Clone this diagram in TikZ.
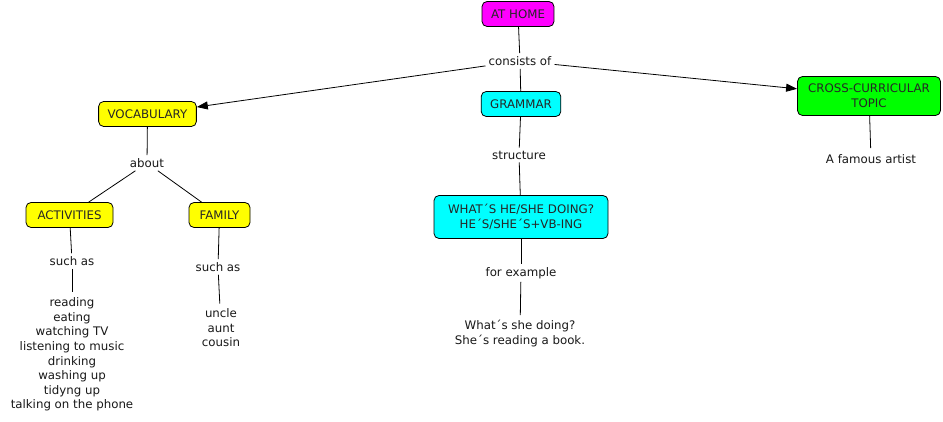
\documentclass[tikz,border=0pt]{standalone}
\usepackage{fontspec}
\setmainfont{DejaVu Sans}
\usetikzlibrary{arrows.meta}
\definecolor{cmag}{RGB}{255,0,255}
\definecolor{cyel}{RGB}{255,255,0}
\definecolor{ccyan}{RGB}{0,255,255}
\definecolor{cgreen}{RGB}{0,255,0}
\begin{document}
\begin{tikzpicture}[x=1pt,y=-1pt,
  font=\fontsize{11.8}{14.6}\selectfont,
  concept/.style={draw=black, rounded corners=5pt, align=center, inner xsep=9pt, inner ysep=0pt, minimum height=25pt, line width=0.8pt, text=black!85},
  lbl/.style={inner sep=3pt, align=center, text=black!90},
  link/.style={draw=black, line width=0.8pt},
  arr/.style={link, -{Triangle[length=11pt,width=8pt]}}]
\useasboundingbox[fill=white] (0,0) rectangle (943,422);

\node[concept, fill=cmag] (home) at (518,14) {AT HOME};
\node[lbl] (consists) at (520,61) {consists of};
\node[concept, fill=cyel, minimum width=97pt] (vocab) at (147.5,114) {VOCABULARY};
\node[concept, fill=ccyan] (grammar) at (521,104) {GRAMMAR};
\node[concept, fill=cgreen, minimum width=143pt, minimum height=39pt] (cross) at (869,96) {CROSS-CURRICULAR\\TOPIC};
\node[lbl] (about) at (147,163) {about};
\node[concept, fill=cyel, minimum width=87pt] (act) at (69.5,215) {ACTIVITIES};
\node[concept, fill=cyel, minimum width=61pt] (fam) at (219.5,215) {FAMILY};
\node[lbl] (such1) at (72,261) {such as};
\node[lbl] (such2) at (218,267) {such as};
\node[lbl, inner sep=5pt] (list1) at (72,354.5) {reading\\eating\\watching TV\\listening to music\\drinking\\washing up\\tidyng up\\talking on the phone};
\node[lbl, inner sep=5pt] (list2) at (221,328) {uncle\\aunt\\cousin};
\node[lbl] (structure) at (519,155) {structure};
\node[concept, fill=ccyan, minimum width=174pt, minimum height=43pt] (what) at (521,217) {WHAT´S HE/SHE DOING?\\HE´S/SHE´S+VB-ING};
\node[lbl] (forex) at (521,273) {for example};
\node[lbl, inner sep=5pt] (example) at (520,333.5) {What´s she doing?\\She´s reading a book.};
\node[lbl, inner sep=6pt] (artist) at (871,159) {A famous artist};

\draw[link] (home) -- (consists);
\draw[arr] (consists) -- (vocab);
\draw[link] (consists) -- (grammar);
\draw[arr] (consists) -- (cross);
\draw[link] (vocab) -- (about);
\draw[link] (about) -- (act);
\draw[link] (about) -- (fam);
\draw[link] (act) -- (such1);
\draw[link] (such1) -- (list1);
\draw[link] (fam) -- (such2);
\draw[link] (such2) -- (list2);
\draw[link] (grammar) -- (structure);
\draw[link] (structure) -- (what);
\draw[link] (what) -- (forex);
\draw[link] (forex) -- (example);
\draw[link] (cross) -- (artist);
\end{tikzpicture}
\end{document}
